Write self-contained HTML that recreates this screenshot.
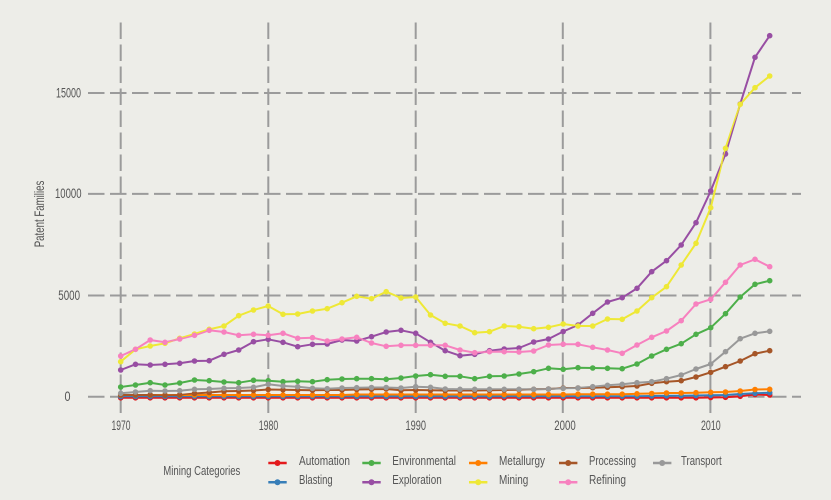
<!DOCTYPE html>
<html>
<head>
<meta charset="utf-8">
<style>
html,body{margin:0;padding:0;background:#EDEDE8;}
svg{display:block;}
text{font-family:"Liberation Sans Narrow","Liberation Sans",sans-serif;fill:#555;}
</style>
</head>
<body>
<svg width="831" height="500" viewBox="0 0 831 500" xmlns="http://www.w3.org/2000/svg">
<defs>
<marker id="mR" markerUnits="userSpaceOnUse" markerWidth="8" markerHeight="8" refX="4" refY="4"><circle cx="4" cy="4" r="2.8" fill="#E41A1C"/></marker>
<marker id="mB" markerUnits="userSpaceOnUse" markerWidth="8" markerHeight="8" refX="4" refY="4"><circle cx="4" cy="4" r="2.8" fill="#377EB8"/></marker>
<marker id="mG" markerUnits="userSpaceOnUse" markerWidth="8" markerHeight="8" refX="4" refY="4"><circle cx="4" cy="4" r="2.8" fill="#4DAF4A"/></marker>
<marker id="mP" markerUnits="userSpaceOnUse" markerWidth="8" markerHeight="8" refX="4" refY="4"><circle cx="4" cy="4" r="2.8" fill="#984EA3"/></marker>
<marker id="mO" markerUnits="userSpaceOnUse" markerWidth="8" markerHeight="8" refX="4" refY="4"><circle cx="4" cy="4" r="2.8" fill="#FF7F00"/></marker>
<marker id="mY" markerUnits="userSpaceOnUse" markerWidth="8" markerHeight="8" refX="4" refY="4"><circle cx="4" cy="4" r="2.8" fill="#EEE836"/></marker>
<marker id="mN" markerUnits="userSpaceOnUse" markerWidth="8" markerHeight="8" refX="4" refY="4"><circle cx="4" cy="4" r="2.8" fill="#A65628"/></marker>
<marker id="mK" markerUnits="userSpaceOnUse" markerWidth="8" markerHeight="8" refX="4" refY="4"><circle cx="4" cy="4" r="2.8" fill="#F781BF"/></marker>
<marker id="mA" markerUnits="userSpaceOnUse" markerWidth="8" markerHeight="8" refX="4" refY="4"><circle cx="4" cy="4" r="2.8" fill="#999999"/></marker>
</defs>
<rect width="831" height="500" fill="#EDEDE8"/>

<!-- grid -->
<g stroke="#9B9B9B" stroke-width="2" stroke-dasharray="16.5 5.5" fill="none">
<line x1="88" y1="93" x2="801" y2="93"/>
<line x1="88" y1="193.9" x2="801" y2="193.9"/>
<line x1="88" y1="295.5" x2="801" y2="295.5"/>
<line x1="88" y1="396.7" x2="801" y2="396.7"/>
<line x1="120.7" y1="413" x2="120.7" y2="21"/>
<line x1="268.3" y1="413" x2="268.3" y2="21"/>
<line x1="415.7" y1="413" x2="415.7" y2="21"/>
<line x1="562.8" y1="413" x2="562.8" y2="21"/>
<line x1="710.4" y1="413" x2="710.4" y2="21"/>
</g>

<!-- tick labels -->
<g font-size="14">
<text x="56" y="97.5" textLength="25" lengthAdjust="spacingAndGlyphs">15000</text>
<text x="55" y="198" textLength="26.5" lengthAdjust="spacingAndGlyphs">10000</text>
<text x="58.3" y="300" textLength="21.7" lengthAdjust="spacingAndGlyphs">5000</text>
<text x="64.5" y="401" textLength="6" lengthAdjust="spacingAndGlyphs">0</text>
<text x="111.5" y="430" textLength="19" lengthAdjust="spacingAndGlyphs">1970</text>
<text x="258.8" y="430" textLength="19.5" lengthAdjust="spacingAndGlyphs">1980</text>
<text x="405.5" y="430" textLength="20.5" lengthAdjust="spacingAndGlyphs">1990</text>
<text x="554.3" y="430" textLength="21.4" lengthAdjust="spacingAndGlyphs">2000</text>
<text x="701" y="430" textLength="19.7" lengthAdjust="spacingAndGlyphs">2010</text>
</g>
<text transform="translate(44,247.3) rotate(-90)" font-size="14" textLength="66.6" lengthAdjust="spacingAndGlyphs">Patent Families</text>

<!-- series lines -->
<g fill="none" stroke-width="2" stroke-linejoin="round">
<polyline id="sR" stroke="#E41A1C" points="120.7,397.8 135.5,397.8 150.2,397.8 165,397.8 179.7,397.8 194.5,397.8 209.2,397.8 224,397.8 238.7,397.8 253.5,397.8 268.2,397.8 283,397.8 297.7,397.8 312.5,397.8 327.2,397.8 342,397.8 356.7,397.8 371.5,397.8 386.2,397.8 401,397.8 415.7,397.8 430.5,397.8 445.2,397.8 460,397.8 474.7,397.8 489.5,397.8 504.2,397.8 519,397.8 533.7,397.8 548.5,397.8 563.2,397.8 578,397.8 592.7,397.8 607.5,397.8 622.2,397.8 637,397.8 651.7,397.8 666.5,397.8 681.2,397.8 696,397.8 710.7,397.5 725.5,397.3 740.2,396.3 755,394.5 769.7,395"/>
<polyline id="sB" stroke="#377EB8" points="120.7,396.5 135.5,396.5 150.2,396.5 165,396.5 179.7,396.5 194.5,396.5 209.2,396.5 224,396.5 238.7,396.5 253.5,396.5 268.2,396.5 283,396.5 297.7,396.5 312.5,396.5 327.2,396.5 342,396.5 356.7,396.5 371.5,396.5 386.2,396.5 401,396.5 415.7,396.5 430.5,396.5 445.2,396.5 460,396.5 474.7,396.5 489.5,396.5 504.2,396.2 519,396.2 533.7,396.2 548.5,396.2 563.2,396.2 578,396.2 592.7,396.2 607.5,396.2 622.2,396.2 637,396.2 651.7,396 666.5,395.8 681.2,395.7 696,395.5 710.7,395.3 725.5,395 740.2,394 755,393.3 769.7,392.7"/>
<polyline id="sG" stroke="#4DAF4A" points="120.7,387 135.5,385 150.2,382.7 165,385 179.7,383 194.5,380 209.2,380.7 224,382 238.7,382.7 253.5,380.3 268.2,380.7 283,381.7 297.7,381.3 312.5,381.7 327.2,379.7 342,379 356.7,378.7 371.5,378.7 386.2,379.3 401,378 415.7,376 430.5,374.7 445.2,376.3 460,376.3 474.7,378.7 489.5,376.3 504.2,376 519,374 533.7,371.7 548.5,368.3 563.2,369.3 578,367.7 592.7,368 607.5,368.3 622.2,368.7 637,364 651.7,356 666.5,349.3 681.2,343.7 696,334.3 710.7,327.7 725.5,313.7 740.2,297 755,284.3 769.7,280.7"/>
<polyline id="sP" stroke="#984EA3" points="120.7,370 135.5,364.3 150.2,365 165,364.3 179.7,363.3 194.5,361 209.2,360.7 224,354.3 238.7,350 253.5,341.7 268.2,339.3 283,342.3 297.7,346.7 312.5,344.3 327.2,344 342,340 356.7,341 371.5,336.7 386.2,332 401,330.3 415.7,333.3 430.5,342.3 445.2,350.7 460,355.7 474.7,354.3 489.5,350.7 504.2,349 519,348 533.7,342 548.5,339 563.2,331.5 578,325 592.7,313.3 607.5,302 622.2,297.7 637,288.3 651.7,271.7 666.5,260.7 681.2,245 696,222.7 710.7,191 725.5,154 740.2,104 755,57.3 769.7,35.7"/>
<polyline id="sO" stroke="#FF7F00" points="120.7,395 135.5,395 150.2,395 165,395 179.7,395 194.5,395 209.2,395 224,395 238.7,395 253.5,395 268.2,395 283,395 297.7,395 312.5,395 327.2,395 342,395 356.7,394.5 371.5,394.5 386.2,394.5 401,394.5 415.7,394.5 430.5,394.5 445.2,394.5 460,394.5 474.7,394.5 489.5,394.5 504.2,394.5 519,394.5 533.7,394.5 548.5,394.5 563.2,394.5 578,394.2 592.7,394.2 607.5,394.2 622.2,394.2 637,393.8 651.7,393.5 666.5,393 681.2,393 696,392.7 710.7,392.3 725.5,392 740.2,391 755,389.5 769.7,389.3"/>
<polyline id="sY" stroke="#EEE836" points="120.7,361.7 135.5,349.3 150.2,346 165,343.3 179.7,338.3 194.5,334 209.2,329.3 224,326 238.7,315.7 253.5,310 268.2,306 283,314.3 297.7,314 312.5,311 327.2,308.7 342,302.7 356.7,296.3 371.5,298.7 386.2,291.7 401,298 415.7,297 430.5,315 445.2,323.3 460,326 474.7,332.7 489.5,331.7 504.2,326 519,326.7 533.7,328.7 548.5,327.3 563.2,324 578,326 592.7,326 607.5,319 622.2,319.3 637,311 651.7,297.7 666.5,286.7 681.2,265 696,243.3 710.7,207.7 725.5,148.3 740.2,104.3 755,87.7 769.7,76"/>
<polyline id="sN" stroke="#A65628" points="120.7,395 135.5,395 150.2,395 165,395.3 179.7,395 194.5,393.5 209.2,392.5 224,391.3 238.7,391 253.5,390.5 268.2,389.5 283,389.8 297.7,390 312.5,390.3 327.2,390 342,390 356.7,389.5 371.5,389.3 386.2,389 401,390.3 415.7,390 430.5,390.3 445.2,390.5 460,390.5 474.7,390.5 489.5,390.3 504.2,390 519,389.7 533.7,389.3 548.5,389 563.2,388 578,388 592.7,387.7 607.5,387.3 622.2,386.7 637,386 651.7,383.3 666.5,381.7 681.2,380.7 696,377 710.7,372.3 725.5,366.7 740.2,361 755,353.7 769.7,350.7"/>
<polyline id="sK" stroke="#F781BF" points="120.7,356 135.5,349.3 150.2,340 165,342.3 179.7,339 194.5,335.3 209.2,330.3 224,332 238.7,335.3 253.5,334.3 268.2,335.3 283,333.3 297.7,338.3 312.5,337.7 327.2,341 342,339 356.7,337.3 371.5,343 386.2,346.3 401,345.3 415.7,345.3 430.5,345.3 445.2,345.3 460,350 474.7,352.7 489.5,351.7 504.2,351.7 519,352 533.7,351 548.5,345 563.2,344.2 578,344.3 592.7,347.3 607.5,350 622.2,353.3 637,345 651.7,337.3 666.5,331 681.2,320.7 696,304 710.7,299.3 725.5,282.3 740.2,265 755,259.3 769.7,266.7"/>
<polyline id="sA" stroke="#999999" points="120.7,393.3 135.5,392 150.2,390.7 165,391 179.7,390.7 194.5,389.3 209.2,389 224,388.3 238.7,388 253.5,387.3 268.2,384.3 283,386 297.7,386.7 312.5,388.3 327.2,388.7 342,388 356.7,387.7 371.5,387.5 386.2,387.5 401,388 415.7,386.7 430.5,387.3 445.2,389 460,389.3 474.7,389.3 489.5,389.3 504.2,389.3 519,389.3 533.7,389.3 548.5,389 563.2,388.3 578,388 592.7,386.7 607.5,385.3 622.2,384.3 637,382.7 651.7,381.7 666.5,378.7 681.2,375 696,369 710.7,364 725.5,351.7 740.2,338.7 755,333.3 769.7,331.3"/>
</g>

<!-- series points -->
<g fill="none" stroke="none">
<use href="#sR" stroke="none" marker-start="url(#mR)" marker-mid="url(#mR)" marker-end="url(#mR)"/>
<use href="#sB" stroke="none" marker-start="url(#mB)" marker-mid="url(#mB)" marker-end="url(#mB)"/>
<use href="#sG" stroke="none" marker-start="url(#mG)" marker-mid="url(#mG)" marker-end="url(#mG)"/>
<use href="#sP" stroke="none" marker-start="url(#mP)" marker-mid="url(#mP)" marker-end="url(#mP)"/>
<use href="#sO" stroke="none" marker-start="url(#mO)" marker-mid="url(#mO)" marker-end="url(#mO)"/>
<use href="#sY" stroke="none" marker-start="url(#mY)" marker-mid="url(#mY)" marker-end="url(#mY)"/>
<use href="#sN" stroke="none" marker-start="url(#mN)" marker-mid="url(#mN)" marker-end="url(#mN)"/>
<use href="#sK" stroke="none" marker-start="url(#mK)" marker-mid="url(#mK)" marker-end="url(#mK)"/>
<use href="#sA" stroke="none" marker-start="url(#mA)" marker-mid="url(#mA)" marker-end="url(#mA)"/>
</g>

<!-- legend -->
<text x="163.3" y="475" font-size="13" textLength="77" lengthAdjust="spacingAndGlyphs">Mining Categories</text>
<g stroke-width="2.5">
<line x1="268.3" y1="463" x2="286.7" y2="463" stroke="#E41A1C"/><circle cx="277.5" cy="463" r="3" fill="#E41A1C"/>
<line x1="268.3" y1="482.3" x2="286.7" y2="482.3" stroke="#377EB8"/><circle cx="277.5" cy="482.3" r="3" fill="#377EB8"/>
<line x1="362.3" y1="463" x2="380.7" y2="463" stroke="#4DAF4A"/><circle cx="371.5" cy="463" r="3" fill="#4DAF4A"/>
<line x1="362.3" y1="482.3" x2="380.7" y2="482.3" stroke="#984EA3"/><circle cx="371.5" cy="482.3" r="3" fill="#984EA3"/>
<line x1="469" y1="463" x2="487.4" y2="463" stroke="#FF7F00"/><circle cx="478.2" cy="463" r="3" fill="#FF7F00"/>
<line x1="469" y1="482.3" x2="487.4" y2="482.3" stroke="#EEE836"/><circle cx="478.2" cy="482.3" r="3" fill="#EEE836"/>
<line x1="559" y1="463" x2="577.4" y2="463" stroke="#A65628"/><circle cx="568.2" cy="463" r="3" fill="#A65628"/>
<line x1="559" y1="482.3" x2="577.4" y2="482.3" stroke="#F781BF"/><circle cx="568.2" cy="482.3" r="3" fill="#F781BF"/>
<line x1="653" y1="463" x2="671.4" y2="463" stroke="#999999"/><circle cx="662.2" cy="463" r="3" fill="#999999"/>
</g>
<g font-size="13">
<text x="299" y="465" textLength="51" lengthAdjust="spacingAndGlyphs">Automation</text>
<text x="299" y="484" textLength="33.7" lengthAdjust="spacingAndGlyphs">Blasting</text>
<text x="392.3" y="465" textLength="63.7" lengthAdjust="spacingAndGlyphs">Environmental</text>
<text x="392.3" y="484" textLength="49.4" lengthAdjust="spacingAndGlyphs">Exploration</text>
<text x="499" y="465" textLength="46" lengthAdjust="spacingAndGlyphs">Metallurgy</text>
<text x="499" y="484" textLength="29.3" lengthAdjust="spacingAndGlyphs">Mining</text>
<text x="589" y="465" textLength="47" lengthAdjust="spacingAndGlyphs">Processing</text>
<text x="589" y="484" textLength="37" lengthAdjust="spacingAndGlyphs">Refining</text>
<text x="681" y="465" textLength="40.7" lengthAdjust="spacingAndGlyphs">Transport</text>
</g>
</svg>
</body>
</html>
